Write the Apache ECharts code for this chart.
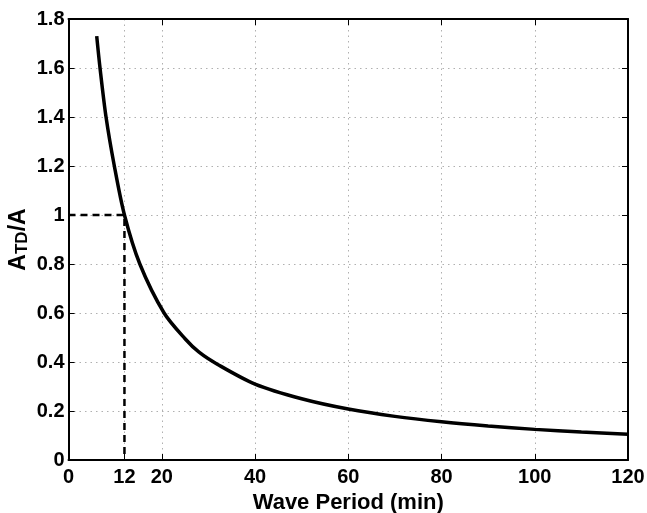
<!DOCTYPE html>
<html>
<head>
    <meta charset="utf-8">
    <title>Wave period</title>
    <script type="text/javascript" src="https://cdn.jsdelivr.net/npm/echarts@6/dist/echarts.min.js"></script>
    <style>
        html, body { margin: 0; padding: 0; background: #fff; }
    </style>
</head>
<body>
<div id="main" style="width:647px; height:513px;"></div>
<script type="text/javascript">
// values
var periods = [6.05, 6.76, 8.05, 9.83, 12, 15.3, 20.5, 25, 28, 32, 40, 50, 60, 70, 80, 90, 100, 110, 120];
var ratios  = [1.73, 1.6, 1.4, 1.2, 1.0, 0.8, 0.6, 0.495, 0.44, 0.39, 0.31, 0.25, 0.208, 0.178, 0.156, 0.139, 0.125, 0.114, 0.105];
// dashed guide at 12 min
var guideX = [0, 12, 12];
var guideY = [1, 1, 0];
var xTicks = [0, 12, 20, 40, 60, 80, 100, 120];

var curve = periods.map(function (p, i) { return [p, ratios[i]]; });
var guide = guideX.map(function (p, i) { return [p, guideY[i]]; });

var font = 'Liberation Sans, Arial, Helvetica, sans-serif';
var gridLine = { show: true, lineStyle: { color: '#b0b0b0', width: 1, type: [1.5, 4] } };
var frame = { show: true, onZero: false, lineStyle: { color: '#000', width: 2 } };
var tickIn = { show: true, inside: true, length: 6, lineStyle: { color: '#000', width: 1 } };

var myChart = echarts.init(document.getElementById('main'));
myChart.setOption({
    animation: false,
    backgroundColor: '#fff',
    grid: { left: 68.5, right: 19, top: 19, bottom: 53, containLabel: false, outerBoundsMode: 'none' },
    xAxis: [
        {
            type: 'value', min: 0, max: 120, interval: 20,
            axisLine: frame,
            axisTick: { show: true, inside: true, length: 6, customValues: xTicks, lineStyle: { color: '#000' } },
            axisLabel: {
                customValues: xTicks, margin: 7,
                color: '#000', fontFamily: font, fontWeight: 'bold', fontSize: 20
            },
            splitLine: gridLine,
            name: 'Wave Period (min)', nameLocation: 'middle', nameGap: 32, nameMoveOverlap: false,
            nameTextStyle: { color: '#000', fontFamily: font, fontWeight: 'bold', fontSize: 22 }
        },
        {
            type: 'value', min: 0, max: 120, interval: 20, position: 'top',
            axisLine: frame, axisTick: tickIn,
            axisLabel: { show: false }, splitLine: { show: false }
        }
    ],
    yAxis: [
        {
            type: 'value', min: 0, max: 1.8, interval: 0.2,
            axisLine: frame, axisTick: tickIn,
            axisLabel: {
                margin: 4, color: '#000', fontFamily: font, fontWeight: 'bold', fontSize: 20,
                formatter: function (v) { return String(+v.toFixed(1)); }
            },
            splitLine: gridLine,
            name: '{a|A}{s|TD}{a|/A}', nameLocation: 'middle', nameGap: 38, nameRotate: 90,
            nameMoveOverlap: false,
            nameTextStyle: {
                rich: {
                    a: { color: '#000', fontFamily: font, fontWeight: 'bold', fontSize: 23, lineHeight: 23, verticalAlign: 'top' },
                    s: { color: '#000', fontFamily: font, fontWeight: 'bold', fontSize: 17, lineHeight: 17, padding: [13, 0, 0, 0], verticalAlign: 'bottom' }
                }
            }
        },
        {
            type: 'value', min: 0, max: 1.8, interval: 0.2, position: 'right',
            axisLine: frame, axisTick: tickIn,
            axisLabel: { show: false }, splitLine: { show: false }
        }
    ],
    series: [
        {
            type: 'line', data: guide, showSymbol: false,
            lineStyle: { color: '#000', width: 2.5, type: [7, 5] }, z: 3
        },
        {
            type: 'line', data: curve, showSymbol: false, smooth: 0.3,
            lineStyle: { color: '#000', width: 3.5 }, z: 4
        }
    ]
});
</script>
</body>
</html>
